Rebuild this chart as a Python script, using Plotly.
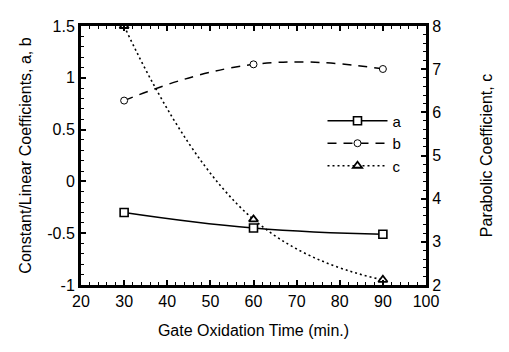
import plotly.graph_objects as go

# ---- data ----
time_min = [30, 60, 90]
coef_a = [-0.30, -0.45, -0.51]
coef_b = [0.78, 1.13, 1.085]
coef_c = [8.0, 3.52, 2.12]

series_names = ["a", "b", "c"]

x_tickvals = [20, 30, 40, 50, 60, 70, 80, 90, 100]
x_ticktext = ["20", "30", "40", "50", "60", "70", "80", "90", "100"]
y1_tickvals = [-1, -0.5, 0, 0.5, 1, 1.5]
y1_ticktext = ["-1", "-0.5", "0", "0.5", "1", "1.5"]
y2_tickvals = [2, 3, 4, 5, 6, 7, 8]
y2_ticktext = ["2", "3", "4", "5", "6", "7", "8"]

FONT = "Liberation Sans, Arial, Helvetica, sans-serif"

fig = go.Figure()

fig.add_trace(go.Scatter(
    x=time_min, y=coef_a, name=series_names[0], mode="lines+markers",
    line=dict(color="black", width=1.5, shape="spline", smoothing=1.3),
    marker=dict(symbol="square", size=8, color="white",
                line=dict(color="black", width=1.6)),
    yaxis="y",
))
fig.add_trace(go.Scatter(
    x=time_min, y=coef_b, name=series_names[1], mode="lines+markers",
    line=dict(color="black", width=1.5, dash="9px,7px", shape="spline", smoothing=1.3),
    marker=dict(symbol="circle", size=7, color="white",
                line=dict(color="black", width=1)),
    yaxis="y",
))
fig.add_trace(go.Scatter(
    x=time_min, y=coef_c, name=series_names[2], mode="lines+markers",
    line=dict(color="black", width=1.6, dash="2px,3px", shape="spline", smoothing=1.3),
    marker=dict(symbol="triangle-up", size=8, color="white",
                line=dict(color="black", width=1.8)),
    yaxis="y2",
))

axis_common = dict(
    showline=True, linecolor="black", linewidth=3,
    ticks="inside", ticklen=5, tickwidth=1.5, tickcolor="black",
    showgrid=False, zeroline=False,
    tickfont=dict(family=FONT, size=16, color="black"),
)

fig.update_layout(
    width=509, height=352,
    margin=dict(l=81, r=83, t=26, b=67),
    paper_bgcolor="white", plot_bgcolor="white",
    font=dict(family=FONT, size=16, color="black"),
    xaxis=dict(
        range=[20, 100], tickvals=x_tickvals, ticktext=x_ticktext,
        mirror="ticks",
        minor=dict(dtick=2, ticklen=3, tickwidth=1.2, tickcolor="black", ticks="inside"),
        title=dict(text="Gate Oxidation Time (min.)", standoff=16,
                   font=dict(family=FONT, size=16, color="black")),
        **axis_common,
    ),
    yaxis=dict(
        range=[-1, 1.5], tickvals=y1_tickvals, ticktext=y1_ticktext,
        minor=dict(dtick=0.1, tick0=0, ticklen=3, tickwidth=1.2, tickcolor="black", ticks="inside"),
        title=dict(text="Constant/Linear Coefficients, a, b", standoff=12,
                   font=dict(family=FONT, size=16, color="black")),
        **axis_common,
    ),
    yaxis2=dict(
        range=[2, 8], tickvals=y2_tickvals, ticktext=y2_ticktext,
        overlaying="y", side="right",
        minor=dict(dtick=0.2, tick0=0, ticklen=3, tickwidth=1.2, tickcolor="black", ticks="inside"),
        title=dict(text="Parabolic Coefficient, c", standoff=41,
                   font=dict(family=FONT, size=16, color="black")),
        **axis_common,
    ),
    legend=dict(
        x=0.70, y=0.697, xanchor="left", yanchor="top",
        bgcolor="rgba(0,0,0,0)", borderwidth=0,
        itemwidth=60,
        font=dict(family=FONT, size=15, color="black"),
    ),
    showlegend=True,
)

fig.write_html("out.html")
